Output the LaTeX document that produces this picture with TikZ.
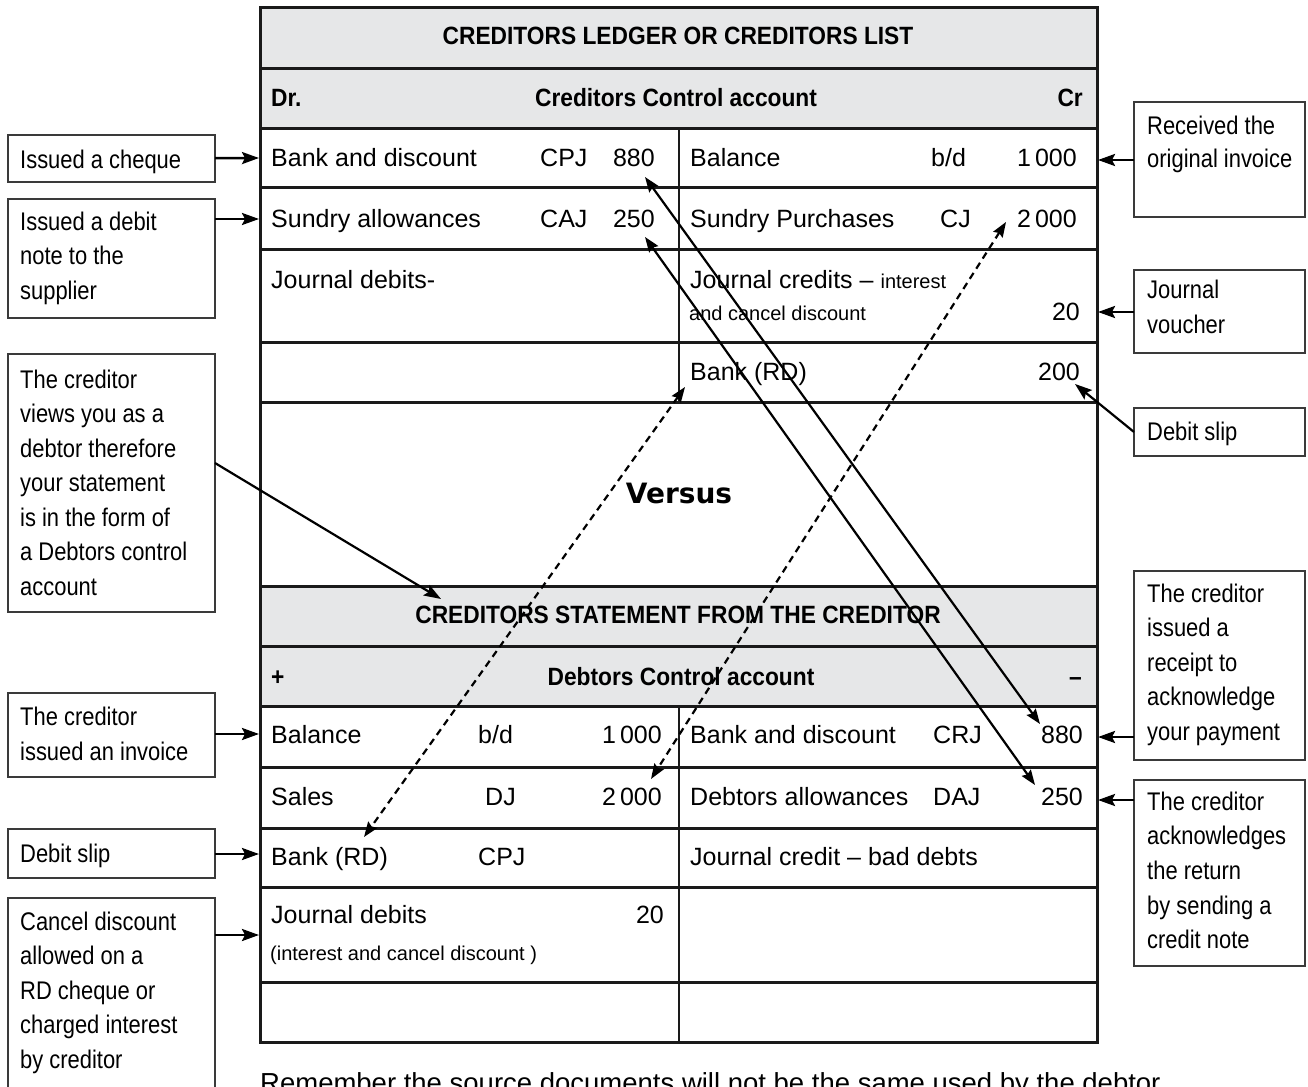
\documentclass[tikz,border=0pt]{standalone}
\usepackage{fontspec}
\setmainfont{Liberation Sans}
\newfontfamily\callfont{Liberation Sans}[FakeStretch=0.86]
\newfontfamily\headfont{Liberation Sans}[FakeStretch=0.91]
\newfontfamily\versusfont{DejaVu Sans}
\usetikzlibrary{arrows.meta}
\definecolor{hdrgray}{HTML}{E6E7E8}
\definecolor{boxline}{HTML}{3A3A3A}
\definecolor{tabline}{HTML}{1A1A1A}
\tikzset{
  cell/.style={anchor=base west, inner sep=0pt, font=\fontsize{25}{30}\selectfont},
  numr/.style={anchor=base east, inner sep=0pt, font=\fontsize{25}{30}\selectfont},
  smalltxt/.style={anchor=base west, inner sep=0pt, font=\fontsize{20}{24}\selectfont},
  hdrtxt/.style={anchor=base, inner sep=0pt, font=\headfont\bfseries\fontsize{25}{30}\selectfont},
  calltxt/.style={anchor=base west, inner sep=0pt, font=\callfont\fontsize{25.5}{30}\selectfont},
  callbox/.style={draw=boxline, line width=1.7pt, inner sep=0pt, outer sep=0pt},
  tline/.style={draw=tabline, line width=3pt},
  vline/.style={draw=tabline, line width=2.5pt},
  conn/.style={line width=2.6pt, -{Stealth[length=17pt,width=12pt,inset=3pt]}},
  diag/.style={line width=2.2pt, {Stealth[length=15pt,width=11pt,inset=2pt]}-{Stealth[length=15pt,width=11pt,inset=2pt]}},
  dashdiag/.style={diag, dash pattern=on 7pt off 5pt},
}
\begin{document}
\begin{tikzpicture}[x=1pt,y=-1pt]
\useasboundingbox (0,0) rectangle (1308,1086);
\clip (0,0) rectangle (1308,1086);
\fill[white] (0,0) rectangle (1308,1086);

% ---------- table ----------
\fill[hdrgray] (260,8) rectangle (1097,129);
\fill[hdrgray] (260,586) rectangle (1097,706);
\draw[tline, line join=miter] (260,8) rectangle (1097,1042);
\foreach \yy in {69,129,188,249,342,402,586,646,706,767,828,887,982}
  \draw[tline] (260,\yy) -- (1097,\yy);
\draw[vline] (679,129) -- (679,402);
\draw[vline] (679,706) -- (679,1042);

% headers
\node[hdrtxt] (h1) at (678,45) {CREDITORS LEDGER OR CREDITORS LIST};
\node[hdrtxt, anchor=base west] (h2l) at (271,107) {Dr.};
\node[hdrtxt] (h2c) at (676,107) {Creditors Control account};
\node[hdrtxt, anchor=base east] (h2r) at (1083,107) {Cr};

% top rows
\node[cell] (t1a) at (271,167) {Bank and discount};
\node[cell] (t1b) at (540,167) {CPJ};
\node[numr] (t1c) at (655,167) {880};
\node[cell] (t1d) at (690,167) {Balance};
\node[cell] (t1e) at (931,167) {b/d};
\node[numr] (t1f) at (1077,167) {1\,000};

\node[cell] (t2a) at (271,227) {Sundry allowances};
\node[cell] (t2b) at (540,227) {CAJ};
\node[numr] (t2c) at (655,227) {250};
\node[cell] (t2d) at (690,227) {Sundry Purchases};
\node[cell] (t2e) at (940,227) {CJ};
\node[numr] (t2f) at (1077,227) {2\,000};

\node[cell] (t3a) at (271,288) {Journal debits-};
\node[cell] (t3d) at (690,288) {Journal credits – {\fontsize{20}{24}\selectfont interest}};
\node[smalltxt] (t3e) at (689,320) {and cancel discount};
\node[numr] (t3f) at (1080,320) {20};

\node[cell] (t4d) at (690,380) {Bank (RD)};
\node[numr] (t4f) at (1080,380) {200};

\node[anchor=base, inner sep=0pt, font=\versusfont\bfseries\fontsize{28}{32}\selectfont] (vs) at (679,503) {Versus};

\node[hdrtxt] (h3) at (678,623) {CREDITORS STATEMENT FROM THE CREDITOR};
\node[hdrtxt, anchor=base west] (h4l) at (271,685) {+};
\node[hdrtxt] (h4c) at (681,685) {Debtors Control account};
\node[hdrtxt, anchor=base east] (h4r) at (1082,685) {–};

% bottom rows
\node[cell] (b1a) at (271,743) {Balance};
\node[cell] (b1b) at (478,743) {b/d};
\node[numr] (b1c) at (662,743) {1\,000};
\node[cell] (b1d) at (690,743) {Bank and discount};
\node[cell] (b1e) at (933,743) {CRJ};
\node[numr] (b1f) at (1083,743) {880};

\node[cell] (b2a) at (271,805) {Sales};
\node[cell] (b2b) at (485,805) {DJ};
\node[numr] (b2c) at (662,805) {2\,000};
\node[cell] (b2d) at (690,805) {Debtors allowances};
\node[cell] (b2e) at (933,805) {DAJ};
\node[numr] (b2f) at (1083,805) {250};

\node[cell] (b3a) at (271,865) {Bank (RD)};
\node[cell] (b3b) at (478,865) {CPJ};
\node[cell] (b3d) at (690,865) {Journal credit – bad debts};

\node[cell] (b4a) at (271,923) {Journal debits};
\node[numr] (b4c) at (664,923) {20};
\node[smalltxt] (b4d) at (270,960) {(interest and cancel discount )};

% bottom remark (cut by the page edge, as in the original)
\node[cell, font=\fontsize{27.5}{32}\selectfont] (rem) at (260,1092) {Remember the source documents will not be the same used by the debtor};

% ---------- left callouts ----------
\node[callbox, minimum width=207pt, minimum height=47pt] (L1) at (111.5,158.5) {};
\node[calltxt] (L1t) at (20,168) {Issued a cheque};

\node[callbox, minimum width=207pt, minimum height=119pt] (L2) at (111.5,258.5) {};
\foreach \t [count=\i from 0] in {Issued a debit,note to the,supplier}
  \node[calltxt] (L2t\i) at (20,{230+34.5*\i}) {\t};

\node[callbox, minimum width=207pt, minimum height=258pt] (L3) at (111.5,483) {};
\foreach \t [count=\i from 0] in {The creditor,views you as a,debtor therefore,your statement,is in the form of,a Debtors control,account}
  \node[calltxt] (L3t\i) at (20,{388+34.5*\i}) {\t};

\node[callbox, minimum width=207pt, minimum height=84pt] (L4) at (111.5,735) {};
\foreach \t [count=\i from 0] in {The creditor,issued an invoice}
  \node[calltxt] (L4t\i) at (20,{725+35*\i}) {\t};

\node[callbox, minimum width=207pt, minimum height=49pt] (L5) at (111.5,853.5) {};
\node[calltxt] (L5t) at (20,862) {Debit slip};

\node[callbox, minimum width=207pt, minimum height=202pt] (L6) at (111.5,999) {};
\foreach \t [count=\i from 0] in {Cancel discount,allowed on a,RD cheque or,charged interest,by creditor}
  \node[calltxt] (L6t\i) at (20,{930+34.6*\i}) {\t};

% ---------- right callouts ----------
\node[callbox, minimum width=171pt, minimum height=115pt] (R1) at (1219.5,159.5) {};
\foreach \t [count=\i from 0] in {Received the,original invoice}
  \node[calltxt] (R1t\i) at (1147,{135+32.5*\i}) {\t};

\node[callbox, minimum width=171pt, minimum height=83pt] (R2) at (1219.5,311.5) {};
\foreach \t [count=\i from 0] in {Journal,voucher}
  \node[calltxt] (R2t\i) at (1147,{298+35*\i}) {\t};

\node[callbox, minimum width=171pt, minimum height=48pt] (R3) at (1219.5,432) {};
\node[calltxt] (R3t) at (1147,440) {Debit slip};

\node[callbox, minimum width=171pt, minimum height=189pt] (R4) at (1219.5,665.5) {};
\foreach \t [count=\i from 0] in {The creditor,issued a,receipt to,acknowledge,your payment}
  \node[calltxt] (R4t\i) at (1147,{602+34.5*\i}) {\t};

\node[callbox, minimum width=171pt, minimum height=186pt] (R5) at (1219.5,873) {};
\foreach \t [count=\i from 0] in {The creditor,acknowledges,the return,by sending a,credit note}
  \node[calltxt] (R5t\i) at (1147,{810+34.7*\i}) {\t};

% ---------- arrow end points ----------
\coordinate (aL1) at (259,158);
\coordinate (aL2) at (259,219);
\coordinate (aL3) at (441,599);
\coordinate (aL4) at (259,734);
\coordinate (aL5) at (259,854);
\coordinate (aL6) at (259,935);
\coordinate (aR1) at (1098,160);
\coordinate (aR2) at (1098,312);
\coordinate (aR3) at (1075,384);
\coordinate (aR4) at (1098,737);
\coordinate (aR5) at (1098,800);

\draw[conn] (L1) -- (aL1);
\draw[conn] (L2.east |- aL2) -- (aL2);
\draw[conn, line width=2.2pt] ([yshift=20pt]L3.east) -- (aL3);
\draw[conn] (L4.east |- aL4) -- (aL4);
\draw[conn] (L5.east |- aL5) -- (aL5);
\draw[conn] (L6.east |- aL6) -- (aL6);
\draw[conn] (R1.west |- aR1) -- (aR1);
\draw[conn] (R2.west |- aR2) -- (aR2);
\draw[conn, line width=2.2pt] (R3.west) -- (aR3);
\draw[conn] (R4.west |- aR4) -- (aR4);
\draw[conn] (R5.west |- aR5) -- (aR5);

% ---------- cross links ----------
\coordinate (x880t) at (645,177);
\coordinate (x880b) at (1040,724);
\coordinate (x250t) at (645,237);
\coordinate (x250b) at (1035,785);
\coordinate (x2kt) at (1006,222);
\coordinate (x2kb) at (651,779);
\coordinate (xrdt) at (685,387);
\coordinate (xrdb) at (364,837);

\draw[diag] (x880t) -- (x880b);
\draw[diag] (x250t) -- (x250b);
\draw[dashdiag] (x2kt) -- (x2kb);
\draw[dashdiag] (xrdt) -- (xrdb);
\end{tikzpicture}
\end{document}
